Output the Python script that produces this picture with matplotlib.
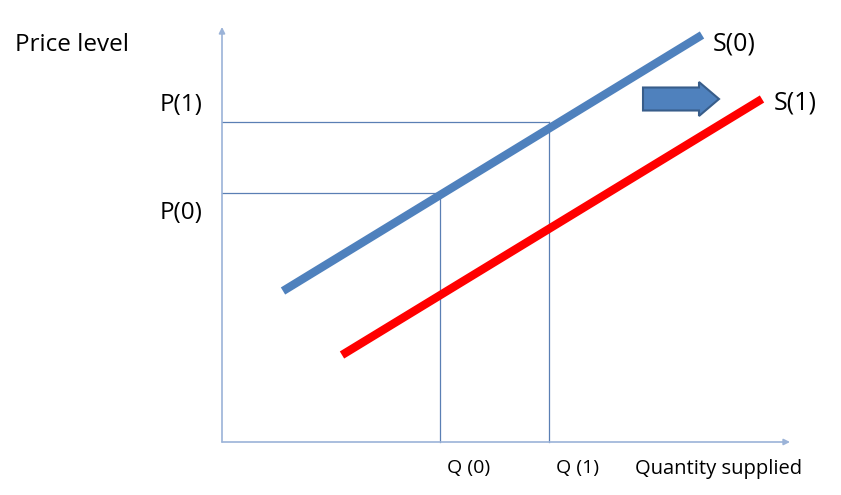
import matplotlib.pyplot as plt
from matplotlib.patches import FancyArrow

plt.rcParams['font.family'] = ['Open Sans', 'DejaVu Sans']

# supply curves (quantity, price) end points
s0_q = [61, 480]
s0_p = [151, 407]
s1_q = [120, 540]
s1_p = [87, 343]

# equilibrium markers
p_levels = [249, 320]
q_levels = [218, 327]
p_labels = ['P(0)', 'P(1)']
q_labels = ['Q (0)', 'Q (1)']

fig = plt.figure(figsize=(8.41, 4.95), dpi=100)
ax = fig.add_axes([0, 0, 1, 1])
ax.set_xlim(-222, 619)
ax.set_ylim(-53, 442)
ax.axis('off')

axis_col = '#9bb3d8'
ax.annotate('', xy=(0, 415), xytext=(0, 0),
            arrowprops=dict(arrowstyle='-|>', color=axis_col, lw=1.2,
                            mutation_scale=9, shrinkA=0, shrinkB=0))
ax.annotate('', xy=(568, 0), xytext=(0, 0),
            arrowprops=dict(arrowstyle='-|>', color=axis_col, lw=1.2,
                            mutation_scale=9, shrinkA=0, shrinkB=0))

guide = '#5a7fb4'
for p, q in zip(p_levels, q_levels):
    ax.plot([0, q], [p, p], color=guide, lw=0.9)
    ax.plot([q, q], [0, p], color=guide, lw=0.9)

ax.plot(s0_q, s0_p, color='#4f81bd', lw=6, solid_capstyle='butt')
ax.plot(s1_q, s1_p, color='#ff0000', lw=6, solid_capstyle='butt')

ax.add_patch(FancyArrow(421, 343, 76, 0, width=23, head_width=34,
                        head_length=20, length_includes_head=True,
                        fc='#4f81bd', ec='#385d8a', lw=1.5))

ax.text(-207, 397, 'Price level', fontsize=17.5, va='center', ha='left')
ax.text(-19, 337, p_labels[1], fontsize=17.5, va='center', ha='right')
ax.text(-19, 229, p_labels[0], fontsize=17.5, va='center', ha='right')
ax.text(491, 398, 'S(0)', fontsize=18, va='center', ha='left')
ax.text(552, 339, 'S(1)', fontsize=18, va='center', ha='left')
for q, lab in zip(q_levels, q_labels):
    ax.text(q + 29, -26, lab, fontsize=14, va='center', ha='center')
ax.text(413, -27, 'Quantity supplied', fontsize=14.5, va='center', ha='left')

fig.savefig('out.png', dpi=100)
